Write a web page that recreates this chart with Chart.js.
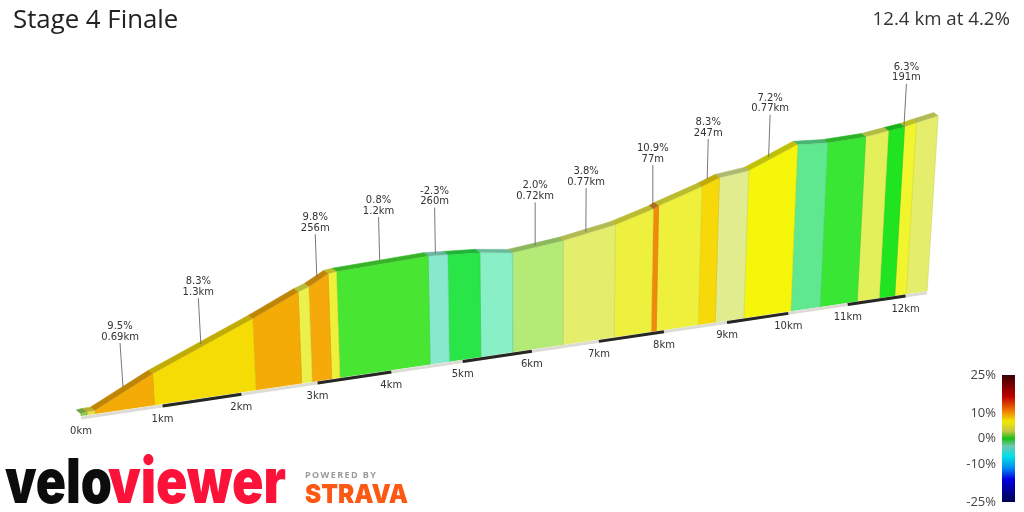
<!DOCTYPE html>
<html>
<head>
<meta charset="utf-8">
<style>
  html, body { margin: 0; padding: 0; background: #fff; }
  canvas { display: block; }
</style>
<script src="https://cdn.jsdelivr.net/npm/chart.js@4/dist/chart.umd.js"></script>
</head>
<body>
<canvas id="profileChart" width="1024" height="512"></canvas>
<script>
// Climb profile
const edgeKm = [0, 0.07, 0.17, 0.9, 2.19, 2.79, 2.93, 3.19, 3.3, 4.54, 4.81, 5.26, 5.72, 6.46,
  7.23, 7.8, 7.88, 8.54, 8.81, 9.27, 10.04, 10.53, 11.16, 11.54, 11.81, 12.01, 12.38];
const edgeElev = [6, 8, 8, 79, 185, 239, 249, 277, 280, 292, 289, 284, 273, 289,
  316, 348, 355, 396, 416, 427, 488, 484, 490, 501, 508, 517, 531];

const kmTicks = [0, 1, 2, 3, 4, 5, 6, 7, 8, 9, 10, 11, 12];

const calloutKm = [0.53, 1.52, 3.04, 3.88, 4.64, 6.05, 6.79, 7.78, 8.62, 9.58, 11.8];
const calloutElev = [57, 138, 272, 292, 297, 286, 306, 352, 417, 462, 509];
const calloutGrade = ['9.5%', '8.3%', '9.8%', '0.8%', '-2.3%', '2.0%', '3.8%', '10.9%', '8.3%', '7.2%', '6.3%'];
const calloutLength = ['0.69km', '1.3km', '256m', '1.2km', '260m', '0.72km', '0.77km', '77m', '247m', '0.77km', '191m'];

const legendTicks = [25, 10, 0, -10, -25];
const legendStops = [25, 16.5, 11, 6.8, 3, 0, -3, -7, -11.5, -16, -25];

// Styles
const segmentColors = ['#8fce50', '#e8e040', '#f5ab05', '#f6dc05', '#f5ab05', '#ecf04a', '#f5a90a', '#eef03a',
  '#48e632', '#86e8cc', '#2ae548', '#88efc6', '#b4ea76', '#e4ee6c', '#eef03e', '#f08a0a', '#eef03c',
  '#f7d90a', '#e0ec8e', '#f6f60a', '#5fe88f', '#3ae634', '#e4f05a', '#1fe41f', '#f1f52e', '#e4ee6c'];
const legendColors = ['#3a0000', '#c00000', '#f07800', '#f0e800', '#c8c840', '#18c018',
  '#70c8b0', '#00e0e8', '#0090f0', '#0000e0', '#000050'];
const calloutLift = [44, 46, 43, 45, 46, 43, 44, 43, 40, 42, 43];

// Perspective of the 3D view
const SQUEEZE = 0.0172, KM_PX = 82.9, ELEV_PX = 0.4;
const START_X = 81, START_Y = 416, GROUND_SLOPE = 0.1475;
const LEAN_X = 540, LEAN = 0.000163;
const DEPTH_X = -4.5, DEPTH_Y = -3.5;
const LEGEND_MIN = -28.94, LEGEND_MAX = 172.64;

function project(km, elev, lift = 0) {
  const d = 1 + SQUEEZE * km;
  const bx = START_X + KM_PX * km / d;
  const by = START_Y - GROUND_SLOPE * (bx - START_X);
  const h = elev * ELEV_PX / d + lift;
  return { x: bx + (bx - LEAN_X) * LEAN * h, y: by - h };
}

function shade(hex, f) {
  const n = parseInt(hex.slice(1), 16);
  const c = [n >> 16, (n >> 8) & 255, n & 255].map(v => Math.round(v * f));
  return `rgb(${c[0]},${c[1]},${c[2]})`;
}

const back = p => ({ x: p.x + DEPTH_X, y: p.y + DEPTH_Y });

const polygon = (points, color, edge) => ({
  data: points,
  backgroundColor: color,
  borderColor: edge,
  borderWidth: 0.6,
  fill: 'shape',
  pointRadius: 0,
  clip: false,
  order: 3
});

// lower order is drawn on top
const stroke = (points, color, width, order) => ({
  data: points,
  borderColor: color,
  borderWidth: width,
  fill: false,
  pointRadius: 0,
  clip: false,
  order
});

const canvas = document.getElementById('profileChart');
const ctx = canvas.getContext('2d');
const datasets = [];

segmentColors.forEach((color, i) => {
  const a = project(edgeKm[i], edgeElev[i]);
  const b = project(edgeKm[i + 1], edgeElev[i + 1]);
  datasets.push(polygon([project(edgeKm[i], 0), a, b, project(edgeKm[i + 1], 0)], color, shade(color, 0.9)));
  datasets.push(polygon([a, back(a), back(b), b], shade(color, 0.78), shade(color, 0.78)));
});

// ground strip with every other km in black
const lastKm = edgeKm[edgeKm.length - 1];
datasets.push(stroke([project(0, -5), project(lastKm, -5)], '#dcdcd4', 3, 2));
kmTicks.forEach(km => {
  if (km % 2 === 1) datasets.push(stroke([project(km, -5), project(km + 1, -5)], '#262622', 3, 1));
});

// leader lines
calloutKm.forEach((km, i) => {
  datasets.push(stroke([project(km, calloutElev[i]), project(km, calloutElev[i], calloutLift[i])], '#777', 1, 0));
});

// grade colour bar
const legendPx = v => canvas.height * (LEGEND_MAX - v) / (LEGEND_MAX - LEGEND_MIN);
const legendFill = ctx.createLinearGradient(0, legendPx(25), 0, legendPx(-25));
legendStops.forEach((v, i) => legendFill.addColorStop((25 - v) / 50, legendColors[i]));
datasets.push({
  data: [{ x: 1002, y: 25 }, { x: 1015, y: 25 }, { x: 1015, y: -25 }, { x: 1002, y: -25 }],
  yAxisID: 'yLegend',
  borderWidth: 0,
  pointRadius: 0,
  fill: 'shape',
  backgroundColor: legendFill
});

function text(ctx, str, x, y, font, color, align = 'center', base = 'middle') {
  ctx.font = font;
  ctx.fillStyle = color;
  ctx.textAlign = align;
  ctx.textBaseline = base;
  ctx.fillText(str, x, y);
}

// squeeze a word into a given width
function fitWord(ctx, str, left, right, baseline, font, color) {
  ctx.save();
  ctx.font = font;
  ctx.fillStyle = color;
  ctx.textAlign = 'left';
  ctx.textBaseline = 'alphabetic';
  ctx.translate(left, baseline);
  ctx.scale((right - left) / ctx.measureText(str).width, 1);
  ctx.fillText(str, 0, 0);
  ctx.restore();
}

const labels = {
  id: 'labels',
  afterDraw(chart) {
    const { ctx, scales } = chart;
    const sx = v => scales.x.getPixelForValue(v);
    const sy = v => scales.y.getPixelForValue(v);
    ctx.save();

    text(ctx, 'Stage 4 Finale', 13, 28, '25.8px "Open Sans"', '#222', 'left', 'alphabetic');
    text(ctx, '12.4 km at 4.2%', 1010, 25, '18.7px "Open Sans"', '#333', 'right', 'alphabetic');

    kmTicks.forEach(km => {
      const p = project(km, 0);
      text(ctx, km + 'km', sx(p.x), sy(p.y) + 15, '10px "DejaVu Sans"', '#333');
    });

    calloutKm.forEach((km, i) => {
      const p = project(km, calloutElev[i], calloutLift[i]);
      text(ctx, calloutGrade[i], sx(p.x), sy(p.y) - 16.5, '10px "DejaVu Sans"', '#333');
      text(ctx, calloutLength[i], sx(p.x), sy(p.y) - 6, '10px "DejaVu Sans"', '#333');
    });

    legendTicks.forEach(v => {
      text(ctx, v + '%', 996, scales.yLegend.getPixelForValue(v), '13px "Open Sans"', '#444', 'right');
    });

    // logos
    fitWord(ctx, 'velo', 5, 112, 503, '900 62px Inter', '#0c0c0c');
    fitWord(ctx, 'viewer', 108, 286, 503, '900 62px Inter', '#fb1238');
    ctx.letterSpacing = '1.4px';
    text(ctx, 'POWERED BY', 305, 478, 'bold 9px "Open Sans"', '#9a9a9a', 'left', 'alphabetic');
    ctx.letterSpacing = '0px';
    fitWord(ctx, 'STRAVA', 305, 408, 503, '900 26px Inter', '#fc5a14');

    ctx.restore();
  }
};

new Chart(ctx, {
  type: 'line',
  data: { datasets },
  plugins: [labels],
  options: {
    responsive: false,
    animation: false,
    events: [],
    layout: { padding: 0 },
    plugins: { legend: { display: false }, tooltip: { enabled: false } },
    scales: {
      x: { type: 'linear', display: false, min: 0, max: 1024 },
      y: { type: 'linear', display: false, min: 0, max: 512, reverse: true },
      yLegend: { type: 'linear', display: false, min: LEGEND_MIN, max: LEGEND_MAX }
    }
  }
});
</script>
</body>
</html>
